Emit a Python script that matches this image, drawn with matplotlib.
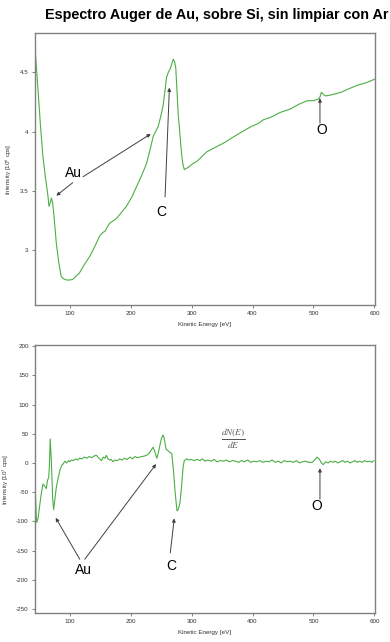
import matplotlib
matplotlib.use('Agg')
import matplotlib.pyplot as plt

plt.rcParams['font.family'] = ['Liberation Sans', 'DejaVu Sans']
plt.rcParams['mathtext.fontset'] = 'stix'

title = 'Espectro Auger de Au, sobre Si, sin limpiar con Ar'

# espectro directo N(E), en 10^6 cps
top_energy = [44, 48, 52, 56, 60, 64, 66, 68, 70, 72, 74, 78, 82, 86, 90, 95, 100,
              105, 110, 116, 124, 133, 141, 149, 154, 158, 162, 166, 172, 177, 185,
              193, 202, 210, 218, 226, 232, 237, 241, 245, 249, 253, 256, 259, 262,
              265, 268, 270, 272, 274, 276, 278, 281, 284, 286, 288, 295, 302, 309,
              317, 325, 340, 355, 364, 380, 397, 410, 418, 430, 445, 462, 476, 490,
              500, 506, 510, 513, 517, 520, 530, 545, 558, 572, 586, 600]
top_signal = [4.64, 4.35, 4.05, 3.79, 3.62, 3.47, 3.37, 3.40, 3.44, 3.40, 3.30, 3.06,
              2.90, 2.78, 2.76, 2.75, 2.75, 2.755, 2.78, 2.81, 2.88, 2.95, 3.03, 3.12,
              3.15, 3.16, 3.20, 3.23, 3.25, 3.27, 3.32, 3.37, 3.45, 3.54, 3.63, 3.73,
              3.85, 3.96, 4.00, 4.04, 4.12, 4.21, 4.33, 4.46, 4.50, 4.53, 4.58, 4.61,
              4.59, 4.54, 4.35, 4.15, 3.97, 3.79, 3.72, 3.68, 3.70, 3.73, 3.75, 3.79,
              3.83, 3.87, 3.91, 3.94, 3.99, 4.04, 4.07, 4.10, 4.12, 4.16, 4.19, 4.23,
              4.26, 4.26, 4.27, 4.28, 4.33, 4.31, 4.30, 4.31, 4.33, 4.36, 4.39, 4.41,
              4.44]

# espectro derivado dN(E)/dE, en 10^3 cps
bot_energy = [43.5, 45, 46, 48, 50.6, 53, 56, 59, 61.6, 63.5, 65.4, 66.5, 68, 69, 70,
              72, 73.6, 76, 78, 80.7, 84, 87, 89, 92, 95, 98, 100, 103, 106, 110, 113,
              116, 120, 124, 128, 132, 136, 140, 144, 147, 150, 152, 155, 158, 160,
              163, 166, 168, 171, 174, 178, 182, 186, 190, 194, 199, 203, 207, 211,
              215, 219, 223, 226, 230, 233, 237, 240, 243, 246, 250, 253, 255, 258,
              262, 265, 267.5, 270, 273, 276, 278, 281, 284, 286, 288, 292, 296, 300,
              304, 309, 314, 318, 322, 327, 332, 337, 342, 347, 352, 357, 362, 367,
              372, 377, 382, 387, 392, 397, 402, 407, 412, 417, 422, 427, 432, 437,
              442, 447, 452, 457, 462, 467, 472, 477, 482, 487, 492, 498, 502, 506,
              510, 513, 516, 520, 524, 528, 532, 536, 540, 544, 548, 552, 556, 560,
              564, 568, 572, 576, 580, 584, 588, 592, 596, 599]
bot_signal = [-45, -90, -102, -95, -74, -55, -36, -40, -44, -30, -25, -10, 41, 20, 1,
              -60, -80, -60, -42, -28, -12, -4, -2, 3, 0, 4, 2, 5, 4, 7, 5, 8, 7, 10, 8,
              11, 9, 12, 13, 9, 6, 4, 10, 8, 13, 7, 5, 6, 2, 5, 4, 7, 5, 8, 6, 10, 7,
              11, 9, 10, 11, 12, 13, 16, 21, 27, 18, 8, 20, 40, 48, 43, 24, 20, 18, 16,
              -10, -50, -82, -80, -68, -35, -8, 4, 7, 5, 6, 4, 6, 4, 7, 3, 5, 3, 6, 2,
              4, 3, 5, 2, 4, 3, 1, 4, 2, 5, 1, 3, 2, 4, 1, 3, 2, 5, 1, 3, 0, 4, 2, 3, 1,
              4, 0, 2, 3, 1, 1, 5, 10, 6, 0, -3, 2, 0, 3, 1, 3, 0, 2, 4, 1, 3, 0, 2, 4,
              1, 3, 1, 4, 2, 3, 1, 4]

x_ticks = [100, 200, 300, 400, 500, 600]
top_yticks = [3, 3.5, 4, 4.5]
top_ylabels = ['3', '3.5', '4', '4.5']
bot_yticks = [-250, -200, -150, -100, -50, 0, 50, 100, 150, 200]

green = '#4cae45'
spine_col = '#808080'
arrow_col = '#404040'

fig = plt.figure(figsize=(3.9, 6.42), dpi=100)
ax1 = fig.add_axes([0.0897, 0.525, 0.8718, 0.4236])
ax2 = fig.add_axes([0.0897, 0.0452, 0.8718, 0.4174])

fig.text(0.115, 0.977, title, fontsize=10.4, fontweight='bold', ha='left', va='center')


def style(ax, yticks, ylabels, ylabel):
    ax.set_xlim(43, 601)
    ax.set_xticks(x_ticks)
    ax.set_xticklabels([str(t) for t in x_ticks])
    ax.set_yticks(yticks)
    ax.set_yticklabels(ylabels)
    ax.tick_params(direction='out', length=2.5, width=0.7, colors=spine_col,
                   labelcolor='#333333', labelsize=4.5, pad=2)
    for s in ax.spines.values():
        s.set_color(spine_col)
        s.set_linewidth(1.0)
    ax.set_xlabel('Kinetic Energy [eV]', fontsize=4.5, color='#333333', labelpad=4)
    ax.set_ylabel(ylabel, fontsize=4.5, color='#333333', labelpad=4)


def arrow(ax, text_xy, tip_xy):
    ax.annotate('', xy=tip_xy, xytext=text_xy,
                arrowprops=dict(arrowstyle='-|>', color=arrow_col, lw=0.7,
                                mutation_scale=5, shrinkA=0, shrinkB=0))


# panel superior
ax1.plot(top_energy, top_signal, color=green, lw=0.8)
ax1.set_ylim(2.54, 4.83)
style(ax1, top_yticks, top_ylabels, r'Intensity [10$^6$ cps]')
ax1.text(106, 3.65, 'Au', fontsize=10, ha='center', va='center')
arrow(ax1, (105, 3.57), (78, 3.46))
arrow(ax1, (122, 3.62), (233, 3.98))
ax1.text(251, 3.32, 'C', fontsize=10, ha='center', va='center')
arrow(ax1, (256.5, 3.45), (263.6, 4.37))
ax1.text(513, 4.01, 'O', fontsize=10, ha='center', va='center')
arrow(ax1, (510.7, 4.07), (510.7, 4.28))

# panel inferior
ax2.plot(bot_energy, bot_signal, color=green, lw=0.8)
ax2.set_ylim(-257, 202)
style(ax2, bot_yticks, [str(t) for t in bot_yticks], r'Intensity [10$^3$ cps]')
ax2.text(122, -183, 'Au', fontsize=10, ha='center', va='center')
arrow(ax2, (116.5, -165), (77, -94))
arrow(ax2, (124.7, -165), (241.7, -2))
ax2.text(266, -177, 'C', fontsize=10, ha='center', va='center')
arrow(ax2, (265, -154), (271.6, -95))
ax2.text(505, -74, 'O', fontsize=10, ha='center', va='center')
arrow(ax2, (510.7, -62), (510.7, -9))
ax2.text(369, 41, r'$\frac{dN(E)}{dE}$', fontsize=9.5, color='#555555',
         ha='center', va='center')

fig.savefig('out.png', dpi=100)
